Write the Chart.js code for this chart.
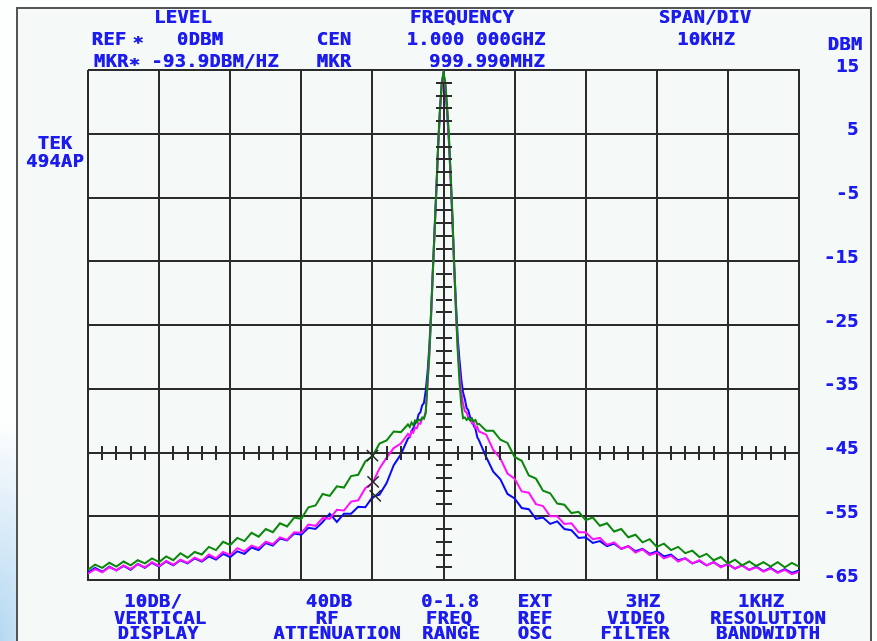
<!DOCTYPE html>
<html><head><meta charset="utf-8">
<script src="https://cdn.jsdelivr.net/npm/chart.js@4.4.1/dist/chart.umd.min.js"></script>
<style>
html,body{margin:0;padding:0;width:877px;height:641px;overflow:hidden;background:#fdfefe;}
#bg{position:absolute;left:0;top:0;width:877px;height:641px;background:radial-gradient(ellipse 70px 220px at 0px 641px, rgba(140,195,235,0.65), rgba(140,195,235,0) 100%);}
#frame{position:absolute;left:16px;top:7px;width:852px;height:700px;border:2px solid #555;background:#f5faf8;}
canvas{position:absolute;left:0;top:0;}
.t,.yl{position:absolute;font-family:'DejaVu Sans Mono',monospace;font-weight:bold;font-size:17px;letter-spacing:0.3px;color:#1c1cf0;line-height:17px;white-space:pre;text-shadow:0.5px 0 0 #1c1cf0;}
.t{transform:translate(-50%,-50%) scaleX(1.1);}
.yl{transform:translateY(-50%) scaleX(1.1);transform-origin:right center;}
</style></head><body>
<div id="bg"></div><div id="frame"></div>
<canvas id="c" width="877" height="641"></canvas>
<div id="labels"></div>
<script>
// ---- data (frequency offset from 1.000 000 GHz, kHz; level in dBm) ----
const freqKHz = [-50,-49,-48,-47,-46,-45,-44,-43,-42,-41,-40,-39,-38,-37,-36,-35,-34,-33,-32,-31,-30,-29,-28,-27,-26,-25,-24,-23,-22,-21,-20,-19,-18,-17,-16,-15,-14,-13,-12,-11,-10,-9,-8,-7,-6,
 -5,-4.75,-4.5,-4.25,-4,-3.75,-3.5,-3.25,-3,-2.75,-2.5,-2.25,-2,-1.75,-1.5,-1.25,-1,-0.75,-0.5,-0.25,0,0.25,0.5,0.75,1,1.25,1.5,1.75,2,2.25,2.5,2.75,3,3.25,3.5,3.75,4,4.25,4.5,4.75,5,
 6,7,8,9,10,11,12,13,14,15,16,17,18,19,20,21,22,23,24,25,26,27,28,29,30,31,32,33,34,35,36,37,38,39,40,41,42,43,44,45,46,47,48,49,50];

const greenTrace = [-63.4,-62.6,-63.1,-62.3,-62.9,-62.1,-62.7,-61.9,-62.4,-61.6,-62.2,-61.3,-61.9,-60.8,-61.5,-60.6,-61.0,-59.8,-60.3,-59.0,-59.5,-58.4,-58.9,-57.6,-58.2,-57.0,-57.5,-56.1,-56.6,-55.2,-55.4,-53.6,-53.3,-51.5,-51.8,-50.3,-50.5,-48.7,-48.5,-46.4,-45.6,-43.6,-43.1,-41.7,-41.8,
 -40.6,-41.0,-40.3,-40.7,-40.0,-40.3,-39.8,-40.0,-39.5,-39.7,-38.8,-34,-29.5,-23.5,-16.5,-10,-3.5,3.5,9,13,14.6,13,9.5,5,-1,-7.5,-15.5,-22.5,-29,-34,-37.5,-39.6,-39.5,-39.9,-39.6,-40.0,-39.7,-40.1,-39.9,-40.6,-40.5,
 -41.6,-41.6,-43.0,-43.5,-45.7,-46.3,-48.6,-49.1,-51.0,-51.4,-53.0,-53.2,-54.5,-54.3,-55.6,-55.2,-56.5,-56.1,-57.4,-57.0,-58.3,-57.9,-59.1,-58.6,-59.8,-59.3,-60.3,-59.8,-60.8,-60.4,-61.4,-60.9,-61.9,-61.4,-62.4,-61.8,-62.7,-62.1,-62.8,-62.2,-62.9,-62.2,-63.0,-62.3,-62.9];

const magentaTrace = [-64.0,-63.3,-63.8,-63.0,-63.5,-62.7,-63.3,-62.5,-63.0,-62.2,-62.8,-62.0,-62.6,-61.8,-62.3,-61.5,-62.0,-61.0,-61.6,-60.6,-61.1,-60.0,-60.5,-59.6,-60.0,-59.0,-59.4,-58.3,-58.7,-57.5,-57.6,-56.3,-56.5,-55.3,-55.4,-54.0,-54.1,-52.7,-52.5,-50.6,-49.8,-47.5,-45.8,-44.3,-43.6,
 -42.1,-42.5,-41.7,-41.9,-41.1,-41.2,-40.4,-40.5,-39.7,-39.6,-38.6,-34.5,-30,-24,-17,-10.5,-4,3,8.5,12.5,14.5,12.5,9,4.5,-1.5,-8,-16,-23,-28.5,-32.5,-35.5,-37.4,-38.5,-38.7,-39.6,-39.7,-40.4,-40.3,-41.1,-41.0,-41.7,
 -42.2,-44.6,-45.9,-48.3,-49.1,-51.1,-51.3,-53.1,-53.4,-55.0,-55.0,-56.2,-56.1,-57.5,-57.5,-58.6,-58.4,-59.5,-59.1,-60.1,-59.7,-60.7,-60.2,-61.1,-60.7,-61.6,-61.2,-62.1,-61.6,-62.4,-61.9,-62.7,-62.2,-63.0,-62.5,-63.2,-62.7,-63.4,-63.0,-63.7,-63.2,-63.9,-63.4,-64.1,-63.7];

const blueTrace = [-63.8,-63.1,-63.7,-62.9,-63.5,-62.8,-63.4,-62.5,-63.1,-62.3,-62.9,-62.1,-62.7,-61.9,-62.4,-61.6,-62.1,-61.3,-61.8,-60.9,-61.4,-60.5,-60.9,-59.9,-60.3,-59.2,-59.6,-58.5,-58.8,-57.7,-57.9,-56.8,-57.0,-55.9,-54.6,-55.9,-54.6,-54.6,-53.5,-53.6,-52.0,-51.6,-49.8,-47.0,-45.3,
 -42.8,-42.6,-41.6,-41.2,-40.4,-40.1,-39.0,-38.7,-37.6,-37.2,-35.3,-32.5,-28.5,-23,-16.5,-10,-3.5,3,8.5,12.8,14.5,12.5,8.5,4,-2,-8.5,-15.5,-21.5,-27,-30.5,-33.5,-35.6,-36.6,-38.0,-38.4,-39.5,-39.7,-40.8,-41.3,-42.6,-43.1,
 -45.7,-48.0,-49.2,-51.5,-52.2,-53.7,-53.9,-55.4,-55.2,-56.2,-55.8,-57.0,-57.2,-58.4,-58.3,-59.2,-58.9,-59.7,-59.3,-60.1,-59.7,-60.5,-60.1,-60.9,-60.5,-61.3,-61.0,-61.9,-61.6,-62.4,-62.0,-62.7,-62.2,-62.9,-62.5,-63.2,-62.7,-63.4,-62.9,-63.6,-63.1,-63.8,-63.3,-63.9,-63.5];

// marker crosses (one per trace)
const markerFreqs = [-10, -9.9, -9.6];
const markerLevels = [-45.5, -49.6, -51.8];

// axis ticks (dBm)
const levelTicks = [15, 5, -5, -15, -25, -35, -45, -55, -65];

// screen annotations (text, centre x, centre y)
const annotations = [
 ['LEVEL',183,16.5],['FREQUENCY',462,16.5],['SPAN/DIV',705,16.5],
 ['REF',108.5,39],['\u2217',137.5,39],['0DBM',200,39],['CEN',333.5,39],['1.000 000GHZ',476,39],['10KHZ',706,39],['DBM',845,44],
 ['MKR\u2217',117,61],['-93.9DBM/HZ',215,61],['MKR',333.5,61],['999.990MHZ',487,61],
 ['TEK',55,142.5],['494AP',55,161],
 ['10DB/',153,601],['VERTICAL',160,618],['DISPLAY',158,633],
 ['40DB',329,601],['RF',327,618],['ATTENUATION',337,633],
 ['0-1.8',450,601],['FREQ',449,618],['RANGE',451,633],
 ['EXT',535,601],['REF',535,618],['OSC',535,633],
 ['3HZ',643,601],['VIDEO',636,618],['FILTER',635,633],
 ['1KHZ',761,601],['RESOLUTION',768,618],['BANDWIDTH',768,633]
];

const labelBox = document.getElementById('labels');
annotations.forEach(([s,x,y])=>{const d=document.createElement('div');d.className='t';d.textContent=s;d.style.left=x+'px';d.style.top=y+'px';labelBox.appendChild(d);});

const gridColor = '#2b2b2b';

const crossPlugin = {
  id:'cross',
  afterDatasetsDraw(chart){
    const {ctx, scales:{x,y}} = chart;
    const cx = Math.round(x.getPixelForValue(0)), cy = Math.round(y.getPixelForValue(-45));
    ctx.save(); ctx.strokeStyle = gridColor; ctx.lineWidth = 2;
    ctx.beginPath();
    for (let v=-48; v<=48; v+=2){ if (v%10===0) continue; const px=Math.round(x.getPixelForValue(v)); ctx.moveTo(px,cy-7); ctx.lineTo(px,cy+7); }
    for (let v=-63; v<=13; v+=2){ if ((v+65)%10===0) continue; const py=Math.round(y.getPixelForValue(v)); ctx.moveTo(cx-8,py); ctx.lineTo(cx+8,py); }
    ctx.stroke(); ctx.restore();
  }
};

const pts = arr => freqKHz.map((f,i)=>({x:f,y:arr[i]}));

const chart = new Chart(document.getElementById('c'), {
  type:'line',
  data:{ datasets:[
    {type:'scatter', data: markerFreqs.map((f,i)=>({x:f,y:markerLevels[i]})), pointStyle:'crossRot', pointRadius:8, borderColor:'#262626', borderWidth:1.5, backgroundColor:'rgba(0,0,0,0)'},
    {data: pts(greenTrace), borderColor:'#0b870b', borderWidth:2, pointRadius:0, tension:0},
    {data: pts(magentaTrace), borderColor:'#ff10ff', borderWidth:2, pointRadius:0, tension:0},
    {data: pts(blueTrace), borderColor:'#0a0aff', borderWidth:2, pointRadius:0, tension:0}
  ]},
  options:{
    responsive:false, animation:false, devicePixelRatio:1,
    layout:{padding:{left:88, top:70, right:18, bottom:61}},
    plugins:{legend:{display:false}, tooltip:{enabled:false}},
    scales:{
      x:{type:'linear', min:-50, max:50, ticks:{display:false, stepSize:10},
         grid:{color:gridColor, lineWidth:2, drawTicks:false}, border:{color:gridColor, width:2},
         afterFit(s){ s.height = 0; }},
      y:{position:'right', min:-65, max:15,
         afterBuildTicks(s){ s.ticks = levelTicks.map(v=>({value:v})); },
         ticks:{display:false},
         grid:{color:gridColor, lineWidth:2, drawTicks:false}, border:{color:gridColor, width:2},
         afterFit(s){ s.width = 60; }}
    }
  },
  plugins:[crossPlugin]
});

// y-axis tick labels, placed through the chart's own y scale
const yScale = chart.scales.y;
levelTicks.forEach(v=>{
  const d=document.createElement('div'); d.className='yl'; d.textContent=String(v).replace('-','-');
  d.style.right=(877-859)+'px'; d.style.top=(yScale.getPixelForValue(v)-4.5)+'px';
  labelBox.appendChild(d);
});
</script>
</body></html>
